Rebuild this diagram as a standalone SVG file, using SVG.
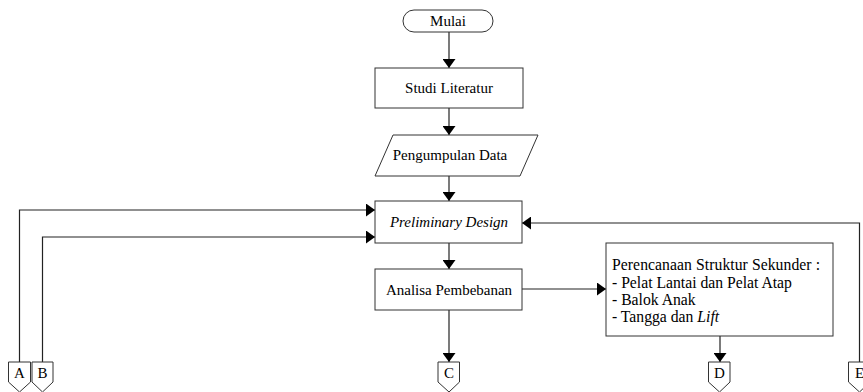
<svg xmlns="http://www.w3.org/2000/svg" width="863" height="392" viewBox="0 0 863 392">
<style>
.box{fill:#fff;stroke:#333;stroke-width:1}
.ln{fill:none;stroke:#222;stroke-width:1.2}
.c{text-anchor:middle}
.i{font-style:italic}
</style>
<defs>
<marker id="ah" viewBox="0 0 9 13" refX="9" refY="6.5" markerWidth="9" markerHeight="13" markerUnits="userSpaceOnUse" orient="auto" preserveAspectRatio="none">
<path d="M0,0 L9,6.5 L0,13 z" fill="#000"/>
</marker>
</defs>
<rect width="863" height="392" fill="#fff"/>
<g id="connectors">
<line class="ln" x1="449" y1="32" x2="449" y2="68" marker-end="url(#ah)"/>
<line class="ln" x1="449" y1="108" x2="449" y2="135" marker-end="url(#ah)"/>
<line class="ln" x1="449" y1="176" x2="449" y2="201" marker-end="url(#ah)"/>
<line class="ln" x1="449" y1="243" x2="449" y2="269" marker-end="url(#ah)"/>
<line class="ln" x1="449" y1="310" x2="449" y2="362" marker-end="url(#ah)"/>
<line class="ln" x1="522" y1="289" x2="606" y2="289" marker-end="url(#ah)"/>
<line class="ln" x1="720" y1="336" x2="720" y2="362" marker-end="url(#ah)"/>
<polyline class="ln" points="19.5,362 19.5,210 375,210" marker-end="url(#ah)"/>
<polyline class="ln" points="42.5,362 42.5,237 375,237" marker-end="url(#ah)"/>
<polyline class="ln" points="859.5,362 859.5,223 522,223" marker-end="url(#ah)"/>
</g>
<g font-family="Liberation Serif, Times New Roman, serif" font-size="15" fill="#000">
<g id="mulai">
<rect class="box" x="403" y="10" width="90" height="22" rx="11" ry="11"/>
<text class="c" x="448" y="26">Mulai</text>
</g>
<g id="studi-literatur">
<rect class="box" x="375" y="68" width="148" height="40"/>
<text class="c" x="449" y="93">Studi Literatur</text>
</g>
<g id="pengumpulan-data">
<polygon class="box" points="393,135 538,135 520,176 375,176"/>
<text class="c" x="450" y="160">Pengumpulan Data</text>
</g>
<g id="preliminary-design">
<rect class="box" x="375" y="201" width="147" height="42"/>
<text class="c i" x="449" y="227">Preliminary Design</text>
</g>
<g id="analisa-pembebanan">
<rect class="box" x="375" y="269" width="147" height="41"/>
<text class="c" x="449" y="295">Analisa Pembebanan</text>
</g>
<g id="struktur-sekunder" font-size="15.7">
<rect class="box" x="606" y="243" width="227" height="93"/>
<text x="612" y="270" textLength="208" lengthAdjust="spacing">Perencanaan Struktur Sekunder :</text>
<text x="612" y="288">- Pelat Lantai dan Pelat Atap</text>
<text x="612" y="305">- Balok Anak</text>
<text x="612" y="322">- Tangga dan <tspan class="i">Lift</tspan></text>
</g>
<g id="conn-A">
<polygon class="box" points="8.5,362 30.5,362 30.5,382 19.5,392 8.5,382"/>
<text class="c" x="19.5" y="378">A</text>
</g>
<g id="conn-B">
<polygon class="box" points="32,362 53,362 53,382 42.5,392 32,382"/>
<text class="c" x="42.5" y="378">B</text>
</g>
<g id="conn-C">
<polygon class="box" points="438,362 459.5,362 459.5,382 449,392 438,382"/>
<text class="c" x="449" y="378">C</text>
</g>
<g id="conn-D">
<polygon class="box" points="708.5,362 730,362 730,382 719.5,392 708.5,382"/>
<text class="c" x="719.5" y="378">D</text>
</g>
<g id="conn-E">
<polygon class="box" points="848.5,362 870,362 870,382 859.5,392 848.5,382"/>
<text class="c" x="859.5" y="378">E</text>
</g>
</g>
</svg>
